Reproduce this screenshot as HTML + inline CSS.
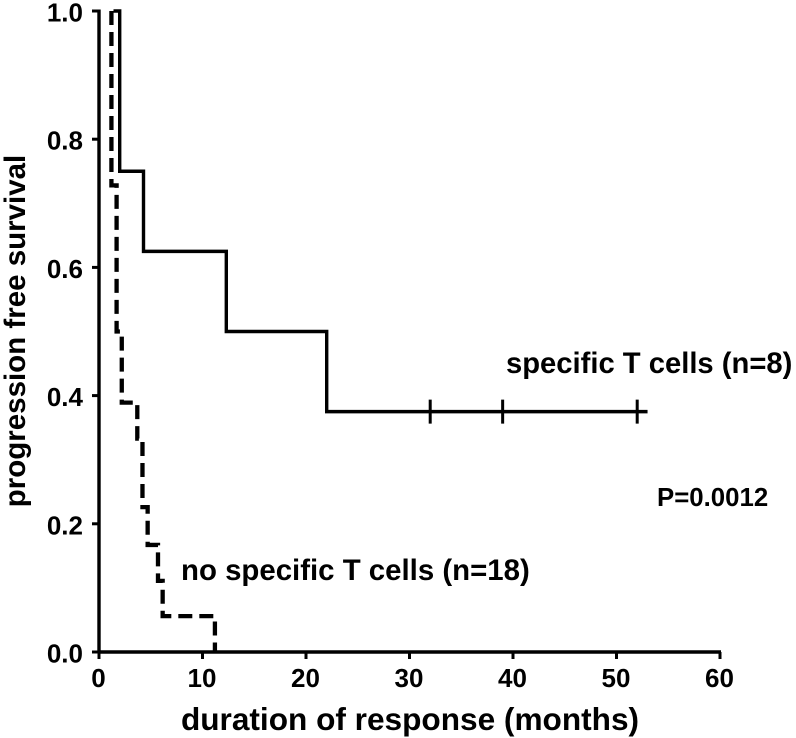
<!DOCTYPE html>
<html>
<head>
<meta charset="utf-8">
<style>
html,body{margin:0;padding:0;background:#fff;}
svg{display:block;}
text{font-family:"Liberation Sans",Arial,sans-serif;font-weight:bold;fill:#000;}
</style>
</head>
<body>
<svg id="chart" xmlns="http://www.w3.org/2000/svg" width="796" height="738" viewBox="0 0 796 738">
<text transform="translate(25,331) rotate(-90)" text-anchor="middle" font-size="29.5">progression free survival</text>
<text x="410" y="730" text-anchor="middle" font-size="31.6">duration of response (months)</text>
<text x="506" y="373" font-size="29.2">specific T cells (n=8)</text>
<text x="181" y="580" font-size="29.4">no specific T cells (n=18)</text>
<text x="657" y="506" font-size="25.8">P=0.0012</text>
</svg>
<script>
var xTicks = [0, 10, 20, 30, 40, 50, 60];
var yTicks = [0.0, 0.2, 0.4, 0.6, 0.8, 1.0];
var specificTimes = [1.4, 2.0, 4.3, 12.3, 22.0, 53.0];
var specificSurvival = [1.0, 0.75, 0.625, 0.5, 0.375, 0.375];
var specificCensored = [32, 39, 52];
var noSpecificTimes = [1.2, 1.7, 2.2, 3.7, 4.2, 4.7, 5.7, 6.15, 11.2];
var noSpecificSurvival = [0.728, 0.5, 0.389, 0.333, 0.226, 0.167, 0.111, 0.056, 0.0];

var svg = document.getElementById('chart');
var NS = 'http://www.w3.org/2000/svg';
function xScale(v){ return 99 + v * (720 - 99) / 60; }
function yScale(v){ return 652 - v * (652 - 11); }
function add(tag, attrs){
  var el = document.createElementNS(NS, tag);
  for (var k in attrs) el.setAttribute(k, attrs[k]);
  svg.appendChild(el);
  return el;
}
function stepPath(times, values, startValue){
  var d = 'M' + xScale(times[0]) + ' ' + yScale(startValue);
  var cur = startValue;
  for (var i = 0; i < times.length; i++){
    var x = xScale(times[i]);
    d += ' L' + x + ' ' + yScale(cur);
    d += ' L' + x + ' ' + yScale(values[i]);
    cur = values[i];
  }
  return d;
}

var xAxis = add('line', {x1: xScale(0) - 1.5, y1: yScale(0), x2: xScale(60) + 1, y2: yScale(0), stroke: '#000', 'stroke-width': 3.4});


var yAxis = add('line', {x1: xScale(0), y1: yScale(1) - 1.5, x2: xScale(0), y2: yScale(0) + 1.5, stroke: '#000', 'stroke-width': 3.4});



xTicks.forEach(function(t){
  var tick = add('line', {x1: xScale(t), y1: yScale(0), x2: xScale(t), y2: yScale(0) + 7, stroke: '#000', 'stroke-width': 3});
  
  
  var label = add('text', {x: xScale(t) - 0.5, y: 687, 'text-anchor': 'middle', 'font-size': 26});
  label.textContent = String(t);
  
  
});
yTicks.forEach(function(t){
  var tick = add('line', {x1: xScale(0) - 7, y1: yScale(t), x2: xScale(0), y2: yScale(t), stroke: '#000', 'stroke-width': 3});
  
  
  var label = add('text', {x: 83, y: yScale(t) + 10.5, 'text-anchor': 'end', 'font-size': 26});
  label.textContent = t.toFixed(1);
  
  
});

var solid = add('path', {d: stepPath(specificTimes, specificSurvival, 1.0), fill: 'none', stroke: '#000', 'stroke-width': 3.4});


specificCensored.forEach(function(c){
  var last = specificSurvival[specificSurvival.length - 1];
  var m = add('line', {x1: xScale(c), y1: yScale(last) - 12, x2: xScale(c), y2: yScale(last) + 12, stroke: '#000', 'stroke-width': 3});
  
  
});
var dashed = add('path', {d: stepPath(noSpecificTimes, noSpecificSurvival, 1.0), fill: 'none', stroke: '#000', 'stroke-width': 4.3, 'stroke-dasharray': '14 7'});


</script>
</body>
</html>
